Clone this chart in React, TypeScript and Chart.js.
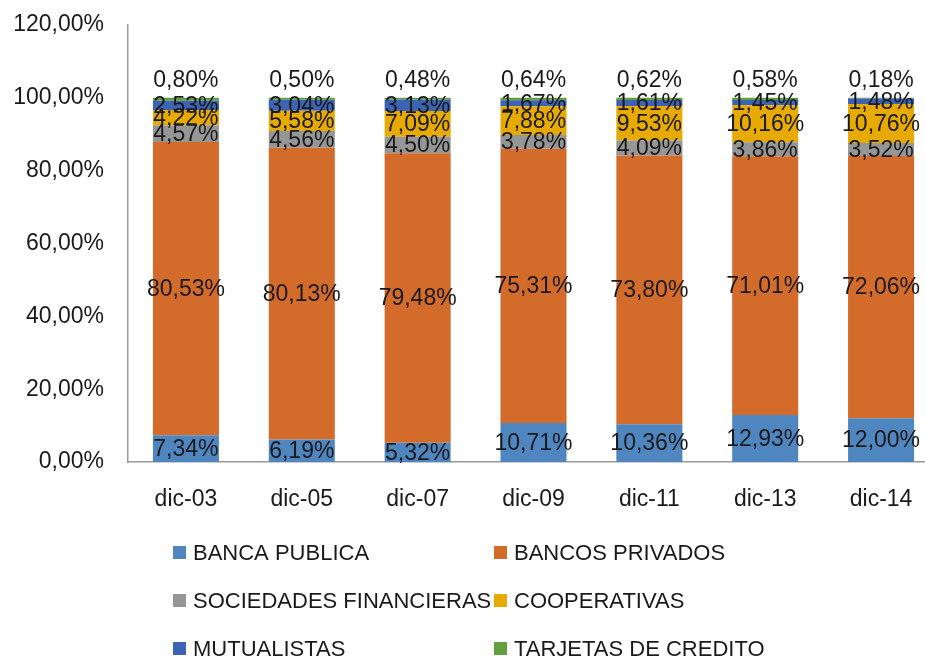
import React, { useEffect, useRef } from "react";
import { Chart, registerables } from "chart.js";

Chart.register(...registerables);

const categories = ["dic-03", "dic-05", "dic-07", "dic-09", "dic-11", "dic-13", "dic-14"];
const bancaPublica = [7.34, 6.19, 5.32, 10.71, 10.36, 12.93, 12.0];
const bancosPrivados = [80.53, 80.13, 79.48, 75.31, 73.8, 71.01, 72.06];
const sociedadesFinancieras = [4.57, 4.56, 4.5, 3.78, 4.09, 3.86, 3.52];
const cooperativas = [4.22, 5.58, 7.09, 7.88, 9.53, 10.16, 10.76];
const mutualistas = [2.53, 3.04, 3.13, 1.67, 1.61, 1.45, 1.48];
const tarjetasDeCredito = [0.8, 0.5, 0.48, 0.64, 0.62, 0.58, 0.18];

const seriesNames = [
  "BANCA PUBLICA",
  "BANCOS PRIVADOS",
  "SOCIEDADES FINANCIERAS",
  "COOPERATIVAS",
  "MUTUALISTAS",
  "TARJETAS DE CREDITO",
];
const seriesValues = [bancaPublica, bancosPrivados, sociedadesFinancieras, cooperativas, mutualistas, tarjetasDeCredito];
const seriesColors = ["#4F86C0", "#D36B2B", "#969696", "#E6AA00", "#3C63B4", "#62A03E"];

const yMin = 0;
const yMax = 120;
const yStep = 20;

const FONT = "'Liberation Sans', Arial, sans-serif";
const TEXT = "#1a1a1a";

const fmt = (v: number) => v.toFixed(2).replace(".", ",") + "%";

const dataLabelPlugin = {
  id: "dataLabels",
  afterDatasetsDraw(chart: any) {
    const ctx = chart.ctx;
    ctx.save();
    ctx.font = `23px ${FONT}`;
    ctx.fillStyle = TEXT;
    ctx.textAlign = "center";
    ctx.textBaseline = "middle";
    const n = chart.data.datasets.length;
    chart.data.datasets.forEach((ds: any, i: number) => {
      const meta = chart.getDatasetMeta(i);
      meta.data.forEach((el: any, j: number) => {
        const v = ds.data[j];
        const { x, y, base } = el.getProps(["x", "y", "base"], true);
        let ty = (y + base) / 2;
        if (i === n - 1) ty = y - 18;
        ctx.fillText(fmt(v), x, ty + 1);
      });
    });
    ctx.restore();
  },
};

const legendPlugin = {
  id: "customLegend",
  afterDraw(chart: any) {
    const ctx = chart.ctx;
    ctx.save();
    ctx.font = `22px ${FONT}`;
    ctx.textAlign = "left";
    ctx.textBaseline = "middle";
    const colX = [173, 494];
    const rowY = [553, 601, 649];
    chart.data.datasets.forEach((ds: any, i: number) => {
      const cx = colX[i % 2];
      const cy = rowY[Math.floor(i / 2)];
      ctx.fillStyle = ds.backgroundColor;
      ctx.fillRect(cx, cy - 7, 13, 13);
      ctx.fillStyle = TEXT;
      ctx.fillText(ds.label, cx + 20, cy + 1);
    });
    ctx.restore();
  },
};

export default function App() {
  const ref = useRef<HTMLCanvasElement>(null);
  useEffect(() => {
    if (!ref.current) return;
    const chart = new Chart(ref.current, {
      type: "bar",
      data: {
        labels: categories,
        datasets: seriesNames.map((name, i) => ({
          label: name,
          data: seriesValues[i],
          backgroundColor: seriesColors[i],
          borderWidth: 0,
          barPercentage: 0.57,
          categoryPercentage: 1,
        })),
      },
      options: {
        animation: false,
        responsive: false,
        maintainAspectRatio: false,
        layout: { padding: { top: 25, left: 0, right: 0, bottom: 0 } },
        plugins: { legend: { display: false }, tooltip: { enabled: false } },
        scales: {
          x: {
            stacked: true,
            grid: { display: false, drawTicks: false },
            border: { display: true, color: "#9a9a9a", width: 1.5 },
            ticks: { color: TEXT, font: { family: FONT, size: 23 }, padding: 24, maxRotation: 0 },
            afterFit: (s: any) => {
              s.height = 198;
              s.paddingLeft = 0;
              s.paddingRight = 0;
            },
          },
          y: {
            stacked: true,
            min: yMin,
            max: yMax,
            grid: { display: false, drawTicks: false },
            border: { display: true, color: "#9a9a9a", width: 1.5 },
            ticks: {
              stepSize: yStep,
              color: TEXT,
              font: { family: FONT, size: 23 },
              padding: 24,
              callback: (v: any) => fmt(Number(v)),
            },
            afterFit: (s: any) => {
              s.width = 128;
              s.paddingTop = 0;
              s.paddingBottom = 0;
            },
          },
        },
      },
      plugins: [dataLabelPlugin, legendPlugin],
    });
    return () => chart.destroy();
  }, []);
  return (
    <div
      style={{
        position: "fixed",
        left: 0,
        top: 0,
        width: 925,
        height: 660,
        overflow: "hidden",
        background: "#fff",
      }}
    >
      <canvas ref={ref} width={939} height={660} style={{ width: 939, height: 660, display: "block" }} />
    </div>
  );
}
